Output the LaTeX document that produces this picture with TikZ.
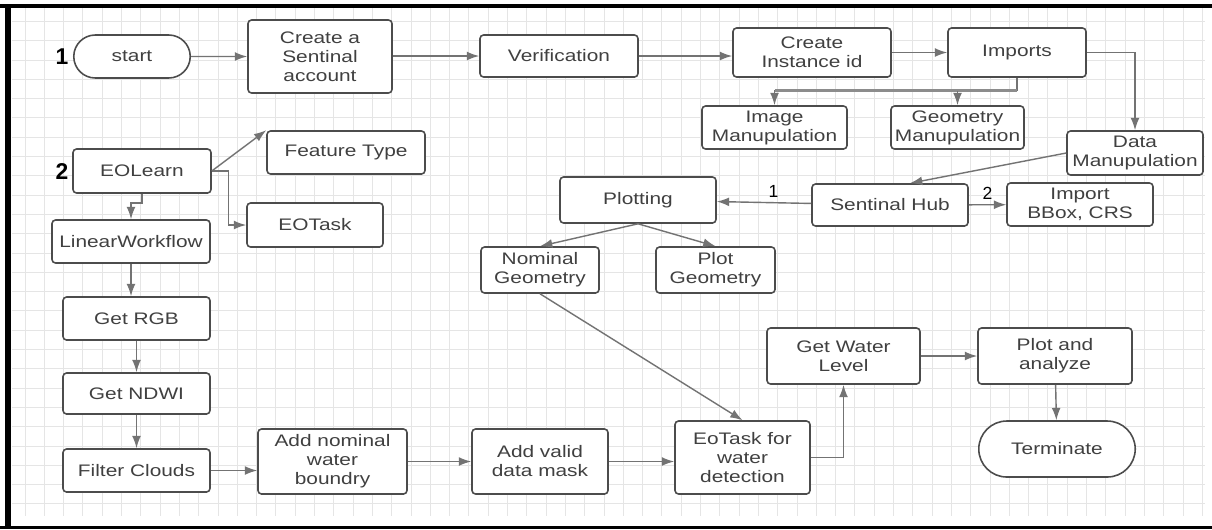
\documentclass[tikz,border=0pt]{standalone}
\usepackage{fontspec}
\setmainfont{Liberation Sans}
\newfontfamily\boxfont{Liberation Sans}[FakeStretch=1.25]
\usetikzlibrary{arrows.meta, shapes.misc, calc}

\begin{document}
\begin{tikzpicture}[x=0.02cm, y=-0.02cm, >={Latex[length=7pt,width=5pt]},
	box/.style={draw=black!70, line width=0.9pt, rounded corners=2pt, fill=white,
		align=center, inner sep=1pt, text=black!75,
		font=\boxfont\fontsize{9.5}{10.8}\selectfont},
	stadium/.style={draw=black!70, line width=0.9pt, rounded rectangle, fill=white,
		align=center, inner sep=1pt, text=black!75,
		font=\boxfont\fontsize{9.5}{10.8}\selectfont},
	arr/.style={->, draw=black!55, line width=0.8pt},
	gridline/.style={black!10, line width=0.4pt}]
	
	\useasboundingbox (0,0) rectangle (1212,529);
	\fill[white] (0,0) rectangle (1212,529);
	
	% grid paper
	\foreach \i in {1,...,62}
	\draw[gridline] ({5.6+19.3*\i},8) -- ({5.6+19.3*\i},516);
	\foreach \j in {1,...,26}
	\draw[gridline] (12,{2+19.3*\j}) -- (1205,{2+19.3*\j});
	
	% frame
	\fill[black] (0,4) rectangle (1212,8);
	\fill[black] (5,4) rectangle (11,529);
	\fill[black] (0,526) rectangle (1212,528.5);
	
	% flow 1: account and data access
	\node[font=\bfseries\fontsize{13}{13}\selectfont] (one) at (62,57) {1};
	\node[stadium, minimum width=2.4cm, minimum height=0.86cm] (start) at (132,56.5) {start};
	\node[box, minimum width=2.88cm, minimum height=1.46cm] (account) at (320,56.5) {Create a\\Sentinal\\account};
	\node[box, minimum width=3.16cm, minimum height=0.84cm] (verif) at (559,56) {Verification};
	\node[box, minimum width=3.16cm, minimum height=0.98cm] (inst) at (812,52.5) {Create\\Instance id};
	\node[box, minimum width=2.76cm, minimum height=0.98cm] (imports) at (1017,52.5) {Imports};
	\node[box, minimum width=2.9cm, minimum height=0.86cm] (imgman) at (774.5,127.5) {Image\\Manupulation};
	\node[box, minimum width=2.66cm, minimum height=0.86cm] (geoman) at (957.5,127.5) {Geometry\\Manupulation};
	\node[box, minimum width=2.72cm, minimum height=0.88cm] (dataman) at (1135,153) {Data\\Manupulation};
	\node[box, minimum width=3.12cm, minimum height=0.84cm] (shub) at (890,205) {Sentinal Hub};
	\node[box, minimum width=2.92cm, minimum height=0.86cm] (bbox) at (1080,204.5) {Import\\BBox, CRS};
	\node[box, minimum width=3.12cm, minimum height=0.92cm] (plotting) at (638,200) {Plotting};
	\node[box, minimum width=2.36cm, minimum height=0.92cm] (nomgeo) at (540,270) {Nominal\\Geometry};
	\node[box, minimum width=2.38cm, minimum height=0.92cm] (plotgeo) at (715.5,270) {Plot\\Geometry};
	
	% flow 2: EOLearn workflow
	\node[font=\bfseries\fontsize{13}{13}\selectfont] (two) at (62,172) {2};
	\node[box, minimum width=2.76cm, minimum height=0.88cm] (eolearn) at (142,171) {EOLearn};
	\node[box, minimum width=3.16cm, minimum height=0.86cm] (feattype) at (346,152.5) {Feature Type};
	\node[box, minimum width=2.72cm, minimum height=0.88cm] (eotask) at (315,225) {EOTask};
	\node[box, minimum width=3.16cm, minimum height=0.86cm] (linwf) at (131,241.5) {LinearWorkflow};
	\node[box, minimum width=2.94cm, minimum height=0.86cm] (getrgb) at (136.5,318.5) {Get RGB};
	\node[box, minimum width=2.94cm, minimum height=0.82cm] (getndwi) at (136.5,393.5) {Get NDWI};
	\node[box, minimum width=2.94cm, minimum height=0.86cm] (filter) at (136.5,470.5) {Filter Clouds};
	\node[box, minimum width=2.98cm, minimum height=1.3cm] (addnom) at (332.5,461.5) {Add nominal\\water\\boundry};
	\node[box, minimum width=2.72cm, minimum height=1.3cm] (addvalid) at (540,461.5) {Add valid\\data mask};
	\node[box, minimum width=2.7cm, minimum height=1.46cm] (eotaskw) at (742.5,457.5) {EoTask for\\water\\detection};
	\node[box, minimum width=3.06cm, minimum height=1.12cm] (waterlvl) at (843.5,356) {Get Water\\Level};
	\node[box, minimum width=3.08cm, minimum height=1.12cm] (plotan) at (1055,356) {Plot and\\analyze};
	\node[stadium, minimum width=3.2cm, minimum height=1.12cm] (term) at (1057,449) {Terminate};
	
	% connectors, top row
	\draw[arr] (start) -- (account);
	\draw[arr] (account.east |- verif) -- (verif);
	\draw[arr] (verif) -- (verif -| inst.west);
	\draw[arr] (inst) -- (imports);
	\coordinate (split) at ($(imports.south)+(0,13)$);
	\draw[arr] (imports.south) -- (split) -| (imgman.north);
	\draw[black!45, line width=1.8pt] (split) -- (split -| imgman.north);
	\draw[arr] (geoman.north |- split) -- (geoman.north);
	\draw[arr] (imports.east) -| (dataman.north);
	\draw[arr] (dataman.west) -- ($(shub.north)+(20,0)$);
	\draw[arr] (shub) -- node[pos=0.4, above=-1pt] {1} (plotting);
	\draw[arr] (shub) -- node[above=-1pt] {2} (bbox);
	\draw[arr] (plotting.south) -- (nomgeo.north);
	\draw[arr] (plotting.south) -- (plotgeo.north);
	\draw[arr] (nomgeo.south) -- (eotaskw.north);
	
	% connectors, EOLearn side
	\draw[arr] (eolearn.east) -- (feattype.north west);
	\draw[arr] (eolearn.east) -- ++(17,0) |- (eotask.west);
	\draw[arr] (eolearn.south) -- ++(0,9) -| (linwf.north);
	\draw[arr] (linwf.south) -- (linwf.south |- getrgb.north);
	\draw[arr] (getrgb) -- (getndwi);
	\draw[arr] (getndwi) -- (filter);
	\draw[arr] (filter.east) -- (filter.east -| addnom.west);
	\draw[arr] (addnom) -- (addvalid);
	\draw[arr] (addvalid) -- (addvalid -| eotaskw.west);
	\draw[arr] (eotaskw.east) -| (waterlvl.south);
	\draw[arr] (waterlvl) -- (plotan);
	\draw[arr] (plotan) -- (term);
	
\end{tikzpicture}
\end{document}
